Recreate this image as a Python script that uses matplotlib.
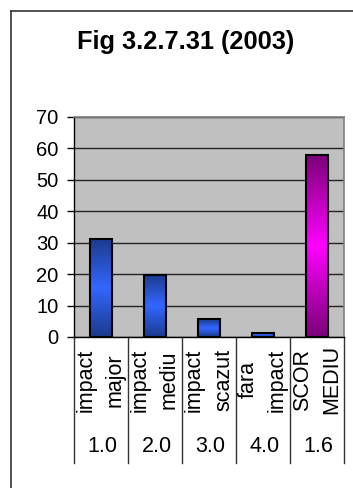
import numpy as np
import matplotlib
matplotlib.use('Agg')
import matplotlib.pyplot as plt
from matplotlib.colors import LinearSegmentedColormap
from matplotlib.lines import Line2D

plt.rcParams['font.family'] = ['Liberation Sans', 'DejaVu Sans']

# --- date ---
categorii = ['impact\nmajor', 'impact\nmediu', 'impact\nscazut', 'fara\nimpact', 'SCOR\nMEDIU']
valori = [31.2, 19.8, 5.7, 1.4, 58.0]
coduri = ['1.0', '2.0', '3.0', '4.0', '1.6']
titlu = 'Fig 3.2.7.31 (2003)'

W, H = 353, 488
fig = plt.figure(figsize=(W / 100, H / 100), dpi=100)
fig.patch.set_facecolor('white')

# chenarul exterior (doar stanga si sus sunt vizibile)
bx, by = 10.5 / W, 1 - 11 / H
fig.add_artist(Line2D([bx, bx], [0, by], transform=fig.transFigure,
                      color='#333333', lw=1.2))
fig.add_artist(Line2D([bx, 1], [by, by], transform=fig.transFigure,
                      color='#333333', lw=1.2))

ax = fig.add_axes([74 / W, (H - 337) / H, (344 - 74) / W, (337 - 117) / H])
ax.set_facecolor('#C0C0C0')

x = np.arange(len(valori))
bare = ax.bar(x, valori, width=0.41, facecolor='none', edgecolor='black',
              linewidth=1.5, zorder=3)

cmap_albastru = LinearSegmentedColormap.from_list('alb', ['#1b3a8c', '#3366ff', '#1b3a8c'])
cmap_magenta = LinearSegmentedColormap.from_list('mag', ['#7a0078', '#ff00ff', '#7a0078'])
grad = np.linspace(0, 1, 256).reshape(-1, 1)
for i, b in enumerate(bare):
    cm = cmap_magenta if i == len(bare) - 1 else cmap_albastru
    x0, w, h = b.get_x(), b.get_width(), b.get_height()
    im = ax.imshow(grad, cmap=cm, aspect='auto', extent=(x0, x0 + w, 0, h),
                   origin='lower', zorder=2)
    im.set_clip_path(b)

ax.set_xlim(-0.5, len(valori) - 0.5)
ax.set_ylim(0, 70)
ax.set_yticks(range(0, 71, 10))
ax.yaxis.grid(True, color='#222222', lw=1)
ax.set_axisbelow(True)
ax.tick_params(axis='y', direction='out', length=5, width=1, pad=6, labelsize=14.5)
ax.set_xticks([])
for s in ['top', 'right']:
    ax.spines[s].set_color('#808080')
    ax.spines[s].set_linewidth(1.2)
for s in ['left', 'bottom']:
    ax.spines[s].set_color('black')
    ax.spines[s].set_linewidth(1)

# tabelul de sub axa
tr = ax.get_xaxis_transform()
for b in np.arange(-0.5, len(valori), 1.0):
    ax.plot([b, b], [0, -0.573], transform=tr, color='#333333', lw=1, clip_on=False)
for i, (c, k) in enumerate(zip(categorii, coduri)):
    ax.text(i, -0.195, c, transform=tr, rotation=90, ha='center', va='center',
            multialignment='center', fontsize=15.5, linespacing=1.5)
    ax.text(i + 0.03, -0.5, k, transform=tr, ha='center', va='center', fontsize=15.5)

fig.text(186 / W, 1 - 42 / H, titlu, ha='center', va='center',
         fontsize=18.3, fontweight='bold')

fig.savefig('out.png', dpi=100)
